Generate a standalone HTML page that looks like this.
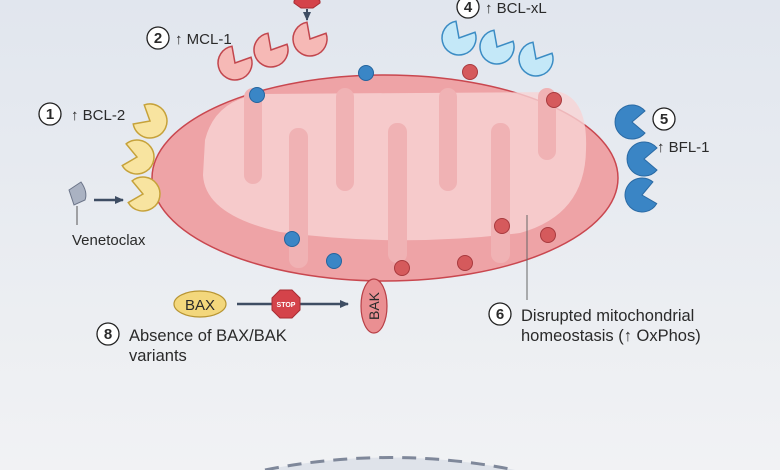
<!DOCTYPE html>
<html><head><meta charset="utf-8"><style>
html,body{margin:0;padding:0;width:780px;height:470px;overflow:hidden}
svg{display:block}
text{font-family:"Liberation Sans",sans-serif;fill:#2a2a2a}
</style></head><body>
<svg width="780" height="470" viewBox="0 0 780 470" xmlns="http://www.w3.org/2000/svg">
<defs>
<linearGradient id="bg" x1="0" y1="0" x2="0" y2="1">
<stop offset="0" stop-color="#e1e6ee"/><stop offset="1" stop-color="#f1f2f4"/></linearGradient>
<path id="pac" d="M0,0 L13,-11 A17,17 0 1,0 13,11 Z"/>
<marker id="ah" markerUnits="userSpaceOnUse" markerWidth="10" markerHeight="10" refX="8" refY="5" orient="auto"><path d="M0,1 L9,5 L0,9 Z" fill="#3e4d63"/></marker>
</defs>
<rect width="780" height="470" fill="url(#bg)"/>
<path d="M265,470 Q390,445 515,470 Z" fill="#dfe3ea"/>
<path d="M265,470 Q390,445 515,470" fill="none" stroke="#7f889a" stroke-width="3" stroke-dasharray="14,9"/>

<polygon points="301,-6 313,-6 320,1 320,3 313,8 301,8 294,3 294,1" fill="#d4434a" stroke="#a82c33"/>
<line x1="307" y1="9" x2="307" y2="20" stroke="#3e4d63" stroke-width="2" marker-end="url(#ah)"/>

<g fill="#f6b9b6" stroke="#c2464d" stroke-width="1.5">
<use href="#pac" transform="translate(235,63) rotate(-60)"/>
<use href="#pac" transform="translate(271,50) rotate(-60)"/>
<use href="#pac" transform="translate(310,39) rotate(-60)"/>
</g>
<g fill="#c4e8f8" stroke="#3b8cc4" stroke-width="1.5">
<use href="#pac" transform="translate(459,38) rotate(-60)"/>
<use href="#pac" transform="translate(497,47) rotate(-60)"/>
<use href="#pac" transform="translate(536,59) rotate(-60)"/>
</g>

<ellipse cx="385" cy="178" rx="233" ry="103" fill="#eea3a6" stroke="#c9474f" stroke-width="1.5"/>
<path d="M205,140 Q215,100 260,94 L560,92 Q588,100 586,150 Q585,215 520,233 Q400,248 280,232 Q205,215 203,175 Z" fill="#f7d3d4" opacity="0.8"/>
<g fill="#f0b2b4">
<rect x="244" y="88" width="18" height="96" rx="9"/>
<rect x="336" y="88" width="18" height="103" rx="9"/>
<rect x="439" y="88" width="18" height="103" rx="9"/>
<rect x="538" y="88" width="18" height="72" rx="9"/>
<rect x="289" y="128" width="19" height="140" rx="9"/>
<rect x="388" y="123" width="19" height="140" rx="9"/>
<rect x="491" y="123" width="19" height="140" rx="9"/>
</g>
<g fill="#3a86c6" stroke="#23649e">
<circle cx="257" cy="95" r="7.5"/><circle cx="366" cy="73" r="7.5"/>
<circle cx="292" cy="239" r="7.5"/><circle cx="334" cy="261" r="7.5"/>
</g>
<g fill="#d55a5c" stroke="#a83a3e">
<circle cx="470" cy="72" r="7.5"/><circle cx="554" cy="100" r="7.5"/>
<circle cx="502" cy="226" r="7.5"/><circle cx="548" cy="235" r="7.5"/>
<circle cx="402" cy="268" r="7.5"/><circle cx="465" cy="263" r="7.5"/>
</g>

<g fill="#f8e4a0" stroke="#c6a23a" stroke-width="1.5">
<use href="#pac" transform="translate(150,121) rotate(-150)"/>
<use href="#pac" transform="translate(137,157) rotate(-170)"/>
<use href="#pac" transform="translate(143,194) rotate(-170)"/>
</g>
<g fill="#3a85c5" stroke="#2a6aa4" stroke-width="1">
<use href="#pac" transform="translate(632,122) rotate(0)"/>
<use href="#pac" transform="translate(644,159) rotate(0)"/>
<use href="#pac" transform="translate(642,195) rotate(-10)"/>
</g>

<path d="M69,190 L81,182 Q88,192 85,200 L74,205 Z" fill="#aab2c2" stroke="#6b7488"/>
<line x1="77" y1="206" x2="77" y2="225" stroke="#555" stroke-width="1"/>
<line x1="94" y1="200" x2="123" y2="200" stroke="#3e4d63" stroke-width="2.5" marker-end="url(#ah)"/>
<text x="72" y="245" font-size="15">Venetoclax</text>

<g font-size="15">
<circle cx="50" cy="114" r="11" fill="#fff" stroke="#222" stroke-width="1.3"/><text x="50" y="119" text-anchor="middle" font-weight="bold">1</text>
<text x="71" y="120">↑ BCL-2</text>
<circle cx="158" cy="38" r="11" fill="#fff" stroke="#222" stroke-width="1.3"/><text x="158" y="43" text-anchor="middle" font-weight="bold">2</text>
<text x="175" y="44">↑ MCL-1</text>
<circle cx="468" cy="7" r="11" fill="#fff" stroke="#222" stroke-width="1.3"/><text x="468" y="12" text-anchor="middle" font-weight="bold">4</text>
<text x="485" y="13">↑ BCL-xL</text>
<circle cx="664" cy="119" r="11" fill="#fff" stroke="#222" stroke-width="1.3"/><text x="664" y="124" text-anchor="middle" font-weight="bold">5</text>
<text x="657" y="152">↑ BFL-1</text>
<line x1="527" y1="215" x2="527" y2="300" stroke="#666" stroke-width="1"/>
<circle cx="500" cy="314" r="11" fill="#fff" stroke="#222" stroke-width="1.3"/><text x="500" y="319" text-anchor="middle" font-weight="bold">6</text>
<text x="521" y="321" font-size="16.5">Disrupted mitochondrial</text>
<text x="521" y="341" font-size="16.5">homeostasis (↑ OxPhos)</text>
<circle cx="108" cy="334" r="11" fill="#fff" stroke="#222" stroke-width="1.3"/><text x="108" y="339" text-anchor="middle" font-weight="bold">8</text>
<text x="129" y="341" font-size="16.5">Absence of BAX/BAK</text>
<text x="129" y="361" font-size="16.5">variants</text>
</g>

<ellipse cx="200" cy="304" rx="26" ry="13" fill="#f3d77c" stroke="#b89532" stroke-width="1.2"/>
<text x="200" y="310" font-size="15" text-anchor="middle">BAX</text>
<line x1="237" y1="304" x2="348" y2="304" stroke="#3e4d63" stroke-width="2.5" marker-end="url(#ah)"/>
<polygon points="280,290 292,290 300,298 300,310 292,318 280,318 272,310 272,298" fill="#d4434a" stroke="#a82c33"/>
<text x="286" y="307" font-size="7" font-weight="bold" text-anchor="middle" style="fill:#fff">STOP</text>
<ellipse cx="374" cy="306" rx="13" ry="27" fill="#ea8f92" stroke="#b83f46" stroke-width="1.2"/>
<text x="0" y="0" font-size="14" text-anchor="middle" transform="translate(379,306) rotate(-90)">BAK</text>
</svg>
</body></html>
